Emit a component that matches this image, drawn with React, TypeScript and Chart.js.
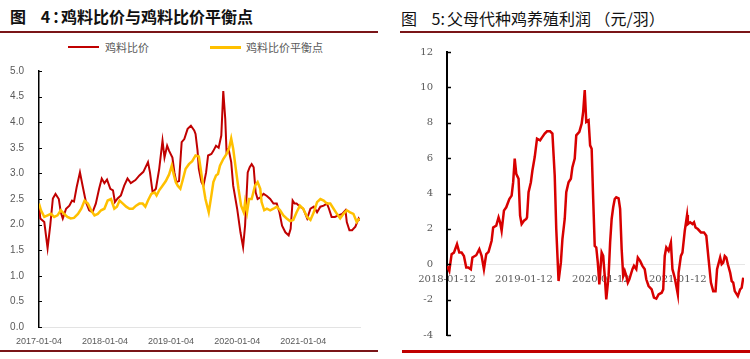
import React, { useEffect, useRef } from "react";
import { Chart, registerables } from "chart.js";

Chart.register(...registerables);

// ---------- Figure 4: 鸡料比价 ----------
const ratioName = "鸡料比价";
const balanceName = "鸡料比价平衡点";
const leftTickLabels = ["2017-01-04", "2018-01-04", "2019-01-04", "2020-01-04", "2021-01-04"];

// x = years since 2017-01-04
const ratioT = [
  0, 0.02, 0.08, 0.13, 0.17, 0.21, 0.25, 0.30, 0.33, 0.36,
  0.41, 0.46, 0.50, 0.53, 0.57, 0.62, 0.66, 0.71, 0.76, 0.81,
  0.86, 0.91, 0.95, 0.99, 1.03, 1.08, 1.12, 1.15, 1.19, 1.24,
  1.29, 1.34, 1.39, 1.46, 1.52, 1.58, 1.65, 1.68, 1.72, 1.77,
  1.82, 1.87, 1.90, 1.94, 1.97, 2.02, 2.05, 2.08, 2.12, 2.16,
  2.20, 2.25, 2.30, 2.35, 2.37, 2.40, 2.42, 2.46, 2.49, 2.53,
  2.56, 2.61, 2.64, 2.68, 2.72, 2.76, 2.79, 2.82, 2.84, 2.87,
  2.91, 2.94, 3.00, 3.05, 3.09, 3.12, 3.16, 3.19, 3.22, 3.25,
  3.28, 3.31, 3.35, 3.40, 3.45, 3.50, 3.55, 3.60, 3.64, 3.68,
  3.73, 3.78, 3.81, 3.84, 3.87, 3.90, 3.95, 4.00, 4.06, 4.11,
  4.16, 4.21, 4.26, 4.31, 4.36, 4.39, 4.43, 4.48, 4.53, 4.59,
  4.64, 4.66, 4.70, 4.74, 4.79, 4.84, 4.86,
];
const ratioV = [
  2.37, 2.12, 2.05, 1.54, 1.98, 2.51, 2.60, 2.50, 2.24, 2.12,
  2.31, 2.37, 2.47, 2.45, 2.73, 3.02, 2.76, 2.44, 2.28, 2.24,
  2.41, 2.70, 2.90, 2.81, 2.88, 2.70, 2.67, 2.44, 2.51, 2.57,
  2.76, 2.90, 2.81, 2.87, 2.96, 3.03, 3.22, 3.02, 2.63, 2.70,
  3.09, 3.64, 3.31, 3.54, 3.44, 3.31, 3.02, 2.83, 2.85, 3.61,
  3.67, 3.87, 3.93, 3.84, 3.77, 3.45, 3.09, 2.83, 2.76, 3.02,
  3.35, 3.38, 3.44, 3.54, 3.50, 3.74, 4.61, 4.06, 3.41, 3.48,
  3.22, 2.76, 2.31, 1.85, 1.56, 1.98, 3.02, 3.12, 3.18, 3.12,
  2.63, 2.50, 2.53, 2.60, 2.56, 2.50, 2.41, 2.41, 2.24, 1.98,
  1.85, 1.79, 1.92, 2.47, 2.41, 2.41, 2.35, 2.31, 2.12, 2.31,
  2.35, 2.24, 2.35, 2.37, 2.41, 2.31, 2.15, 2.15, 2.18, 2.21,
  2.28, 2.05, 1.89, 1.89, 1.96, 2.12, 2.08,
];

const balanceT = [
  0, 0.03, 0.08, 0.13, 0.18, 0.23, 0.28, 0.33, 0.38, 0.43,
  0.48, 0.53, 0.59, 0.64, 0.69, 0.74, 0.79, 0.84, 0.89, 0.94,
  0.99, 1.04, 1.09, 1.14, 1.18, 1.22, 1.27, 1.32, 1.37, 1.42,
  1.47, 1.52, 1.57, 1.61, 1.65, 1.70, 1.75, 1.78, 1.82, 1.87,
  1.92, 1.97, 2.01, 2.04, 2.07, 2.10, 2.14, 2.18, 2.22, 2.27,
  2.32, 2.37, 2.42, 2.47, 2.52, 2.57, 2.61, 2.64, 2.68, 2.71,
  2.74, 2.79, 2.84, 2.88, 2.91, 2.94, 2.98, 3.02, 3.06, 3.10,
  3.12, 3.15, 3.18, 3.22, 3.27, 3.31, 3.35, 3.37, 3.41, 3.45,
  3.50, 3.55, 3.60, 3.65, 3.70, 3.75, 3.80, 3.85, 3.90, 3.95,
  4.00, 4.06, 4.11, 4.16, 4.21, 4.26, 4.31, 4.36, 4.41, 4.46,
  4.51, 4.56, 4.61, 4.66, 4.71, 4.76, 4.81, 4.85,
];
const balanceV = [
  2.41, 2.28, 2.15, 2.18, 2.21, 2.15, 2.18, 2.28, 2.21, 2.15,
  2.12, 2.13, 2.21, 2.31, 2.47, 2.41, 2.28, 2.18, 2.21, 2.28,
  2.31, 2.47, 2.50, 2.31, 2.35, 2.47, 2.41, 2.35, 2.31, 2.31,
  2.37, 2.41, 2.41, 2.35, 2.47, 2.60, 2.63, 2.57, 2.67, 2.76,
  2.85, 2.98, 3.15, 2.98, 2.83, 2.76, 2.70, 2.89, 3.09, 3.18,
  3.24, 3.35, 3.33, 2.89, 2.50, 2.24, 2.57, 2.83, 2.96, 2.99,
  3.15, 3.28, 3.38, 3.50, 3.68, 3.48, 3.09, 2.70, 2.37, 2.24,
  2.44, 2.24, 2.50, 2.50, 2.76, 2.83, 2.70, 2.44, 2.28, 2.31,
  2.28, 2.31, 2.35, 2.28, 2.18, 2.12, 2.07, 2.09, 2.24, 2.37,
  2.31, 2.15, 2.09, 2.24, 2.44, 2.50, 2.47, 2.41, 2.41, 2.31,
  2.21, 2.12, 2.21, 2.28, 2.24, 2.21, 2.05, 2.12,
];

// ---------- Figure 5: 父母代种鸡养殖利润 ----------
const profitName = "父母代种鸡养殖利润";
const rightTickLabels = ["2018-01-12", "2019-01-12", "2020-01-12", "2021-01-12"];

// x = years since 2018-01-12
const profitT = [
  0, 0.03, 0.06, 0.09, 0.13, 0.16, 0.19, 0.22, 0.25, 0.28,
  0.31, 0.33, 0.38, 0.42, 0.45, 0.48, 0.51, 0.54, 0.58, 0.60,
  0.64, 0.67, 0.69, 0.71, 0.74, 0.77, 0.81, 0.84, 0.86, 0.88,
  0.90, 0.93, 0.95, 0.97, 1.00, 1.03, 1.04, 1.06, 1.09, 1.11,
  1.14, 1.17, 1.21, 1.24, 1.27, 1.30, 1.34, 1.37, 1.40, 1.42,
  1.45, 1.48, 1.50, 1.53, 1.55, 1.58, 1.61, 1.63, 1.66, 1.68,
  1.72, 1.75, 1.77, 1.79, 1.81, 1.84, 1.86, 1.88, 1.90, 1.92,
  1.94, 1.96, 1.98, 2.01, 2.03, 2.05, 2.07, 2.10, 2.12, 2.14,
  2.16, 2.18, 2.20, 2.23, 2.25, 2.27, 2.29, 2.31, 2.33, 2.35,
  2.37, 2.41, 2.43, 2.46, 2.48, 2.51, 2.54, 2.57, 2.59, 2.62,
  2.66, 2.69, 2.72, 2.75, 2.79, 2.81, 2.83, 2.85, 2.88, 2.91,
  2.93, 2.96, 3.00, 3.01, 3.04, 3.06, 3.09, 3.12, 3.13, 3.16,
  3.19, 3.21, 3.23, 3.26, 3.30, 3.34, 3.37, 3.40, 3.43, 3.46,
  3.49, 3.51, 3.55, 3.57, 3.59, 3.61, 3.63, 3.65, 3.68, 3.70,
  3.72, 3.74, 3.78, 3.81, 3.83, 3.85,
];
const profitV = [
  -0.10, -0.38, 0.57, 0.66, 1.14, 0.66, 0.66, 0.47, -0.19, -0.19,
  -0.28, 0.38, 0.51, 0.85, 0.47, -0.28, 0.57, 0.70, 1.33, 2.08,
  2.18, 2.65, 2.37, 1.89, 3.03, 3.22, 3.69, 3.88, 4.64, 5.97,
  5.11, 4.83, 2.75, 2.27, 2.46, 2.56, 2.65, 4.07, 4.64, 5.30,
  6.06, 7.10, 7.01, 7.20, 7.39, 7.52, 7.52, 7.39, 5.02, 1.99,
  -0.95, 0.09, 1.42, 2.56, 4.07, 4.64, 4.83, 5.49, 5.97, 7.29,
  7.48, 7.95, 8.62, 9.85, 8.05, 8.14, 6.72, 6.53, 3.69, 1.04,
  0.95, 0.09, -1.14, 0.66, 0.47, -0.66, -1.99, -0.66, 1.23, 2.56,
  3.22, 3.69, 3.79, 3.73, 3.13, 0.85, -0.66, -0.38, -0.66, -1.04,
  -0.85, -0.28, -0.09, -0.28, 0.38, 0.19, -0.09, -0.28, -0.85, -1.23,
  -1.42, -1.89, -1.95, -1.70, -1.61, -1.42, 0.47, 0.95, 0.76, 1.23,
  -0.28, -0.76, -1.70, -0.47, 0.47, 0.66, 1.89, 2.78, 2.27, 2.37,
  2.27, 2.37, 2.08, 1.99, 1.80, 1.80, 1.61, 0.28, -1.04, -1.52,
  -1.52, -0.28, 0.38, 0.00, 0.09, 0.47, 0.38, 0.00, -0.47, -0.95,
  -1.04, -1.52, -1.80, -1.42, -1.33, -0.76,
];

const toPoints = (xs: number[], ys: number[]) => xs.map((x, i) => ({ x, y: ys[i] }));

const innerTicks = {
  id: "innerTicks",
  afterDraw(chart: any, _args: any, opts: any) {
    const s = chart.scales.y;
    const ctx = chart.ctx;
    ctx.save();
    ctx.strokeStyle = opts.color || "#000";
    ctx.lineWidth = opts.width || 1;
    for (const t of s.ticks) {
      const y = Math.round(s.getPixelForValue(t.value)) + 0.5;
      ctx.beginPath();
      ctx.moveTo(s.right, y);
      ctx.lineTo(s.right + (opts.length || 3), y);
      ctx.stroke();
    }
    ctx.restore();
  },
};

const sansTick = { family: "'Liberation Sans', Arial, sans-serif" };
const serifTick = { family: "'DejaVu Serif', 'Liberation Serif', serif" };

function ChartCanvas({ makeConfig, left, top, width, height }: any) {
  const ref = useRef<HTMLCanvasElement>(null);
  useEffect(() => {
    const chart = new Chart(ref.current as HTMLCanvasElement, makeConfig());
    return () => chart.destroy();
  }, []);
  return (
    <canvas
      ref={ref}
      width={width}
      height={height}
      style={{ position: "absolute", left, top, width, height }}
    />
  );
}

const leftConfig = (): any => ({
  type: "line",
  data: {
    datasets: [
      {
        label: ratioName,
        data: toPoints(ratioT, ratioV),
        borderColor: "#c00000",
        borderWidth: 2,
        pointRadius: 0,
        order: 1,
      },
      {
        label: balanceName,
        data: toPoints(balanceT, balanceV),
        borderColor: "#ffc000",
        borderWidth: 2.5,
        pointRadius: 0,
        order: 0,
      },
    ],
  },
  options: {
    animation: false,
    responsive: false,
    devicePixelRatio: 1,
    layout: { padding: { top: 10, right: 20, left: 0, bottom: 0 } },
    plugins: {
      legend: { display: false },
      tooltip: { enabled: false },
      innerTicks: { color: "#000", length: 3, width: 1 },
    },
    scales: {
      x: {
        type: "linear",
        min: 0,
        max: 4.86,
        afterBuildTicks: (s: any) => {
          s.ticks = leftTickLabels.map((_, i) => ({ value: i }));
        },
        afterFit: (s: any) => {
          s.height = 23;
        },
        ticks: {
          callback: (v: any) => leftTickLabels[Math.round(v)] ?? "",
          font: { ...sansTick, size: 9 },
          color: "#595959",
          padding: 9,
          maxRotation: 0,
          autoSkip: false,
        },
        grid: { display: false, drawTicks: false },
        border: { display: true, color: "#e3e3e3", width: 1 },
      },
      y: {
        min: 0,
        max: 5,
        afterFit: (s: any) => {
          s.width = 39;
        },
        ticks: {
          stepSize: 0.5,
          callback: (v: any) => Number(v).toFixed(1),
          font: { ...sansTick, size: 10 },
          color: "#595959",
          padding: 15,
        },
        grid: { display: false, drawTicks: false },
        border: { display: true, color: "#000", width: 1.5 },
      },
    },
  },
  plugins: [innerTicks],
});

const rightConfig = (): any => ({
  type: "line",
  data: {
    datasets: [
      {
        label: profitName,
        data: toPoints(profitT, profitV),
        borderColor: "#d80000",
        borderWidth: 2.5,
        pointRadius: 0,
      },
    ],
  },
  options: {
    animation: false,
    responsive: false,
    devicePixelRatio: 1,
    layout: { padding: { top: 4, right: 6, left: 0, bottom: 3 } },
    plugins: {
      legend: { display: false },
      tooltip: { enabled: false },
      innerTicks: { color: "#000", length: 4, width: 1.5 },
    },
    scales: {
      x: {
        type: "linear",
        min: 0,
        max: 3.86,
        position: { y: 0 },
        afterBuildTicks: (s: any) => {
          s.ticks = rightTickLabels.map((_, i) => ({ value: i }));
        },
        ticks: {
          callback: (v: any) => rightTickLabels[Math.round(v)] ?? "",
          font: { ...serifTick, size: 10 },
          color: "#595959",
          padding: 9,
          maxRotation: 0,
          autoSkip: false,
        },
        grid: { display: false, drawTicks: false },
        border: { display: true, color: "#e6e6e6", width: 1, dash: [2, 2] },
      },
      y: {
        min: -4,
        max: 12,
        afterFit: (s: any) => {
          s.width = 47;
        },
        ticks: {
          stepSize: 2,
          font: { ...serifTick, size: 10 },
          color: "#595959",
          padding: 14,
        },
        grid: { display: false, drawTicks: false },
        border: { display: true, color: "#000", width: 2 },
      },
    },
  },
  plugins: [innerTicks],
});

const cjk = "'Noto Sans CJK SC', 'Noto Sans', sans-serif";

export default function App() {
  const abs = (s: any) => ({ position: "absolute" as const, ...s });
  const box = (align: "left" | "right") => ({ display: "inline-block", width: 16, textAlign: align });
  return (
    <div style={abs({ left: 0, top: 0, width: 750, height: 359, background: "#fff", overflow: "hidden" })}>
      {/* Left figure */}
      <div style={abs({ left: 10, top: 5, fontFamily: cjk, fontSize: 16, fontWeight: 700, lineHeight: "22px", color: "#111", whiteSpace: "pre" })}>
        <span>图</span>
        <span style={{ marginLeft: 11 }}> 4</span>
        <span style={{ marginLeft: 2 }}>：</span>
        <span style={{ marginLeft: -7 }}>鸡料比价与鸡料比价平衡点</span>
      </div>
      <div style={abs({ left: 0, top: 31, width: 378, height: 2, background: "#7a1518" })} />
      <div style={abs({ left: 68, top: 46, width: 31, height: 2, background: "#c00000" })} />
      <div style={abs({ left: 105, top: 39, fontFamily: cjk, fontSize: 11, lineHeight: "16px", color: "#595959" })}>{ratioName}</div>
      <div style={abs({ left: 210, top: 46, width: 31, height: 2.5, background: "#ffc000" })} />
      <div style={abs({ left: 246, top: 39, fontFamily: cjk, fontSize: 11, lineHeight: "16px", color: "#595959" })}>{balanceName}</div>
      <ChartCanvas makeConfig={leftConfig} left={0} top={50} width={380} height={300} />
      <div style={abs({ left: 0, top: 350, width: 378, height: 2, background: "#7a1518" })} />

      {/* Right figure */}
      <div style={abs({ left: 401, top: 6, fontFamily: cjk, fontSize: 16, fontWeight: 400, lineHeight: "24px", color: "#111", whiteSpace: "pre" })}>
        <span>图</span>
        <span style={{ marginLeft: 11 }}> 5</span>
        <span>:</span>
        <span style={{ marginLeft: 2 }}>父母代种鸡养殖利润 </span>
        <span style={box("right")}>（</span>
        <span>元/羽</span>
        <span style={box("left")}>）</span>
      </div>
      <div style={abs({ left: 400, top: 31, width: 350, height: 2, background: "#7a1518" })} />
      <ChartCanvas makeConfig={rightConfig} left={400} top={32} width={350} height={323} />
      <div style={abs({ left: 402, top: 350, width: 348, height: 2.5, background: "#c00000" })} />
    </div>
  );
}
